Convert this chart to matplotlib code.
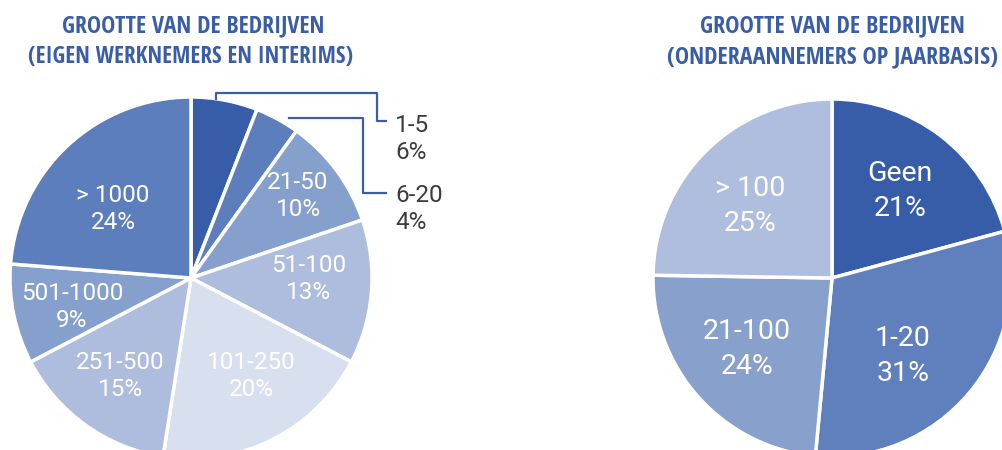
import matplotlib
matplotlib.use("Agg")
import matplotlib.pyplot as plt
from matplotlib import font_manager as fm

# ---- data ----
left_title = ["GROOTTE VAN DE BEDRIJVEN", "(EIGEN WERKNEMERS EN INTERIMS)"]
left_labels = ["1-5", "6-20", "21-50", "51-100", "101-250", "251-500", "501-1000", "> 1000"]
left_values = [6, 4, 10, 13, 20, 15, 9, 24]
left_colors = ["#375DA9", "#5C7EBC", "#86A0CD", "#AEBDDD", "#D8DFEE", "#AEBDDD", "#86A0CD", "#5C7EBC"]

right_title = ["GROOTTE VAN DE BEDRIJVEN", "(ONDERAANNEMERS OP JAARBASIS)"]
right_labels = ["Geen", "1-20", "21-100", "> 100"]
right_values = [21, 31, 24, 25]
right_colors = ["#375DA9", "#5F80BD", "#87A0CC", "#AFBEDE"]

W, H = 1003, 450
TITLE_COLOR = "#3A5DA8"
DARK = "#3C3C3C"

fig = plt.figure(figsize=(W / 100, H / 100), dpi=100)
fig.patch.set_facecolor("white")
renderer = fig.canvas.get_renderer()


def weight_num(w):
    if isinstance(w, int):
        return w
    return {"bold": 700, "semibold": 600, "demibold": 600, "demi": 600,
            "medium": 500, "heavy": 800, "black": 900, "extra bold": 800}.get(str(w).lower(), 400)


# choose the narrowest bold-ish Latin font available for the condensed titles
latin = ("dejavu", "liberation", "noto sans", "roboto", "open sans", "lato", "inter")
cands = [f for f in fm.fontManager.ttflist
         if f.name.lower().startswith(latin) and "cjk" not in f.name.lower()
         and "mono" not in f.name.lower() and f.style == "normal"
         and 500 <= weight_num(f.weight) <= 700]
best, best_w = None, 1e9
for f in cands:
    fp = fm.FontProperties(fname=f.fname, size=20)
    try:
        t = fig.text(0, 0, left_title[1], fontproperties=fp)
        w = t.get_window_extent(renderer).width
        t.remove()
    except Exception:
        continue
    if w < best_w:
        best, best_w = f, w
title_fp = fm.FontProperties(fname=best.fname) if best else fm.FontProperties(family="DejaVu Sans", weight="bold")


def make_axes(cx, cy, r):
    return fig.add_axes([(cx - r) / W, (H - cy - r) / H, 2 * r / W, 2 * r / H])


def px2data(px, py, cx, cy, r):
    return (px - cx) / r, -(py - cy) / r


# ---- left pie ----
lcx, lcy, lr = 191, 278, 181
axl = make_axes(lcx, lcy, lr)
axl.pie(left_values, colors=left_colors, startangle=90, counterclock=False,
        radius=1, wedgeprops=dict(edgecolor="white", linewidth=2.5))
axl.set_xlim(-1, 1)
axl.set_ylim(-1, 1)
axl.set_axis_off()

left_pos = {
    "21-50": (298, 196), "51-100": (309, 279), "101-250": (251, 376),
    "251-500": (120, 376), "501-1000": (72, 307), "> 1000": (113, 209),
}
for lab, val in zip(left_labels, left_values):
    if lab in left_pos:
        x, y = px2data(*left_pos[lab], lcx, lcy, lr)
        axl.text(x, y, f"{lab}\n{val}%", ha="center", va="center", color="white",
                 fontsize=17.5, family="Roboto", linespacing=1.18)

outside = {"1-5": (395, 139), "6-20": (395, 209)}
for lab, val in zip(left_labels, left_values):
    if lab in outside:
        x, y = px2data(*outside[lab], lcx, lcy, lr)
        axl.text(x, y, f"{lab}\n{val}%", ha="left", va="center", color=DARK,
                 fontsize=17.5, family="Roboto", linespacing=1.18, clip_on=False)


def fline(xs, ys):
    fig.add_artist(plt.Line2D([x / W for x in xs], [1 - y / H for y in ys],
                              color=TITLE_COLOR, lw=1.6))


fline([216, 216, 377, 377, 386], [99, 93, 93, 121, 121])
fline([289, 363, 363, 386], [118, 118, 193, 193])

# ---- right pie ----
rcx, rcy, rr = 832, 278, 179
axr = make_axes(rcx, rcy, rr)
axr.pie(right_values, colors=right_colors, startangle=90, counterclock=False,
        radius=1, wedgeprops=dict(edgecolor="white", linewidth=2.5))
axr.set_xlim(-1, 1)
axr.set_ylim(-1, 1)
axr.set_axis_off()

right_pos = {"Geen": (900, 191), "1-20": (903, 356), "21-100": (747, 349), "> 100": (750, 206)}
for lab, val in zip(right_labels, right_values):
    x, y = px2data(*right_pos[lab], rcx, rcy, rr)
    axr.text(x, y, f"{lab}\n{val}%", ha="center", va="center", color="white",
             fontsize=20.5, family="Roboto", linespacing=1.38)


# ---- titles (auto-sized to the reference widths) ----
def title(cx, cy, s, target_w):
    t = fig.text(cx / W, 1 - cy / H, s, fontproperties=title_fp, color=TITLE_COLOR,
                 ha="center", va="center")
    t.set_fontsize(20)
    for _ in range(3):
        w = t.get_window_extent(renderer).width
        t.set_fontsize(t.get_fontsize() * target_w / w)
    return t


title(193, 26, left_title[0], 263)
title(191, 57, left_title[1], 325)
title(832, 26, right_title[0], 265)
title(833, 57, right_title[1], 331)

fig.savefig("out.png", dpi=100)
